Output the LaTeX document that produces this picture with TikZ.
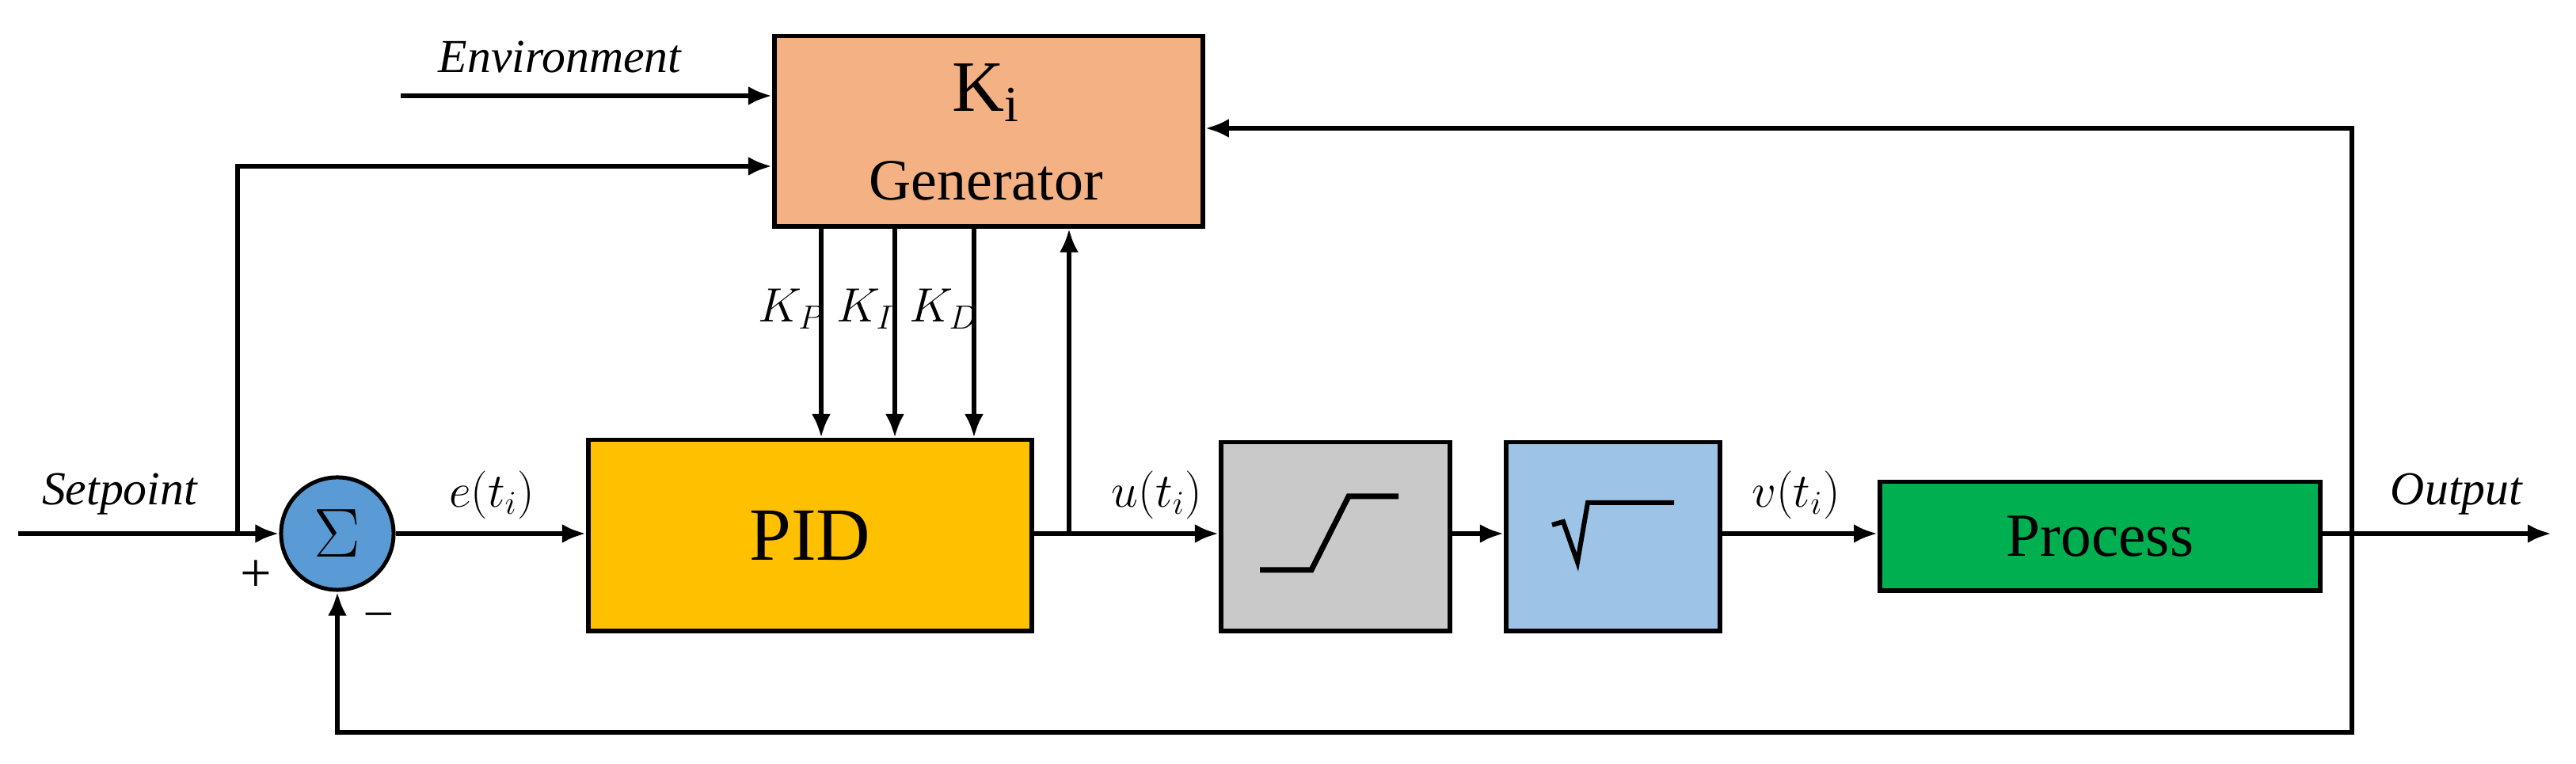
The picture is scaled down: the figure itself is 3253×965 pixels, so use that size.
\documentclass[tikz,border=0pt]{standalone}
\usepackage{fontspec}
\setmainfont{Liberation Serif}
\usetikzlibrary{arrows.meta,shapes.geometric}
\definecolor{gen}{HTML}{F4B183}
\definecolor{pid}{HTML}{FFC000}
\definecolor{sat}{HTML}{C9C9C9}
\definecolor{sq}{HTML}{9DC3E6}
\definecolor{proc}{HTML}{00B050}
\definecolor{sumc}{HTML}{5B9BD5}
\begin{document}
\begin{tikzpicture}[x=0.01cm,y=-0.01cm,line width=0.6mm,
  blk/.style={draw,line width=0.55mm,minimum width=#1,inner sep=0pt},
  arr/.style={-{Latex[length=3mm,width=2.4mm]}},
  lab/.style={font=\fontsize{17}{20}\selectfont\itshape}]
\useasboundingbox (0,0) rectangle (3253,965);
% blocks
\node[draw,line width=0.55mm,fill=gen,minimum width=5.41cm,minimum height=2.40cm,anchor=north west] (gen) at (975,43) {};
\node[font=\fontsize{26}{30}\selectfont] (ki) at (1245,117) {K\textsubscript{i}};
\node[font=\fontsize{21}{25}\selectfont] (gt) at (1245,228) {Generator};
\node[draw,line width=0.55mm,fill=pid,minimum width=5.60cm,minimum height=2.41cm,anchor=north west,font=\fontsize{27}{30}\selectfont] (pid) at (740,553) {PID};
\node[draw,line width=0.55mm,fill=sat,minimum width=2.89cm,minimum height=2.38cm,anchor=north west] (sat) at (1539,556) {};
\node[draw,line width=0.55mm,fill=sq,minimum width=2.70cm,minimum height=2.38cm,anchor=north west] (sq) at (1899,556) {};
\node[draw,line width=0.55mm,fill=proc,minimum width=5.56cm,minimum height=1.37cm,anchor=north west,font=\fontsize{22}{26}\selectfont] (proc) at (2371,606) {Process};
\node[ellipse,draw,line width=0.5mm,fill=sumc,minimum width=1.42cm,minimum height=1.42cm,inner sep=0pt,font=\fontsize{24}{28}\selectfont] (sum) at (426,674) {$\Sigma$};
% symbols
\draw[line width=0.7mm] (1591,720) -- (1656,720) -- (1703,627) -- (1766,627);
\draw[line width=0.6mm] (1960,663) -- (1974,659) -- (1992,710) -- (2005,635) -- (2114,635);
% coordinates
\coordinate (in) at (23,674);
\coordinate (br) at (300,674);
\coordinate (env) at (506,121);
\coordinate (pb) at (1350,674);
\coordinate (ob) at (2970,674);
\coordinate (out) at (3222,674);
% connectors
\draw[arr] (in) -- (sum.west);
\draw[arr] (br) |- (gen.west |- 0,210);
\draw[arr] (env) -- (gen.west |- env);
\draw[arr] (sum.east) -- (pid.west |- sum.east);
\draw[arr] (pid.east |- pb) -- (sat.west |- pb);
\draw[arr] (pb) -- (pb |- gen.south);
\draw[arr] (sat.east |- pb) -- (sq.west |- pb);
\draw[arr] (sq.east |- pb) -- (proc.west |- pb);
\draw[arr] (proc.east |- pb) -- (out);
\draw[arr] (ob) |- (gen.east |- 0,162);
\draw[arr] (ob) |- (426,925) -- (sum.south);
\foreach \x in {1037,1130,1230} \draw[arr] (\x,283) -- (\x,553);
% labels
\node[lab] at (707,72) {Environment};
\node[lab] at (151,624) {Setpoint};
\node[lab] at (3102,624) {Output};
\node[lab] at (621,625) {$e(t_i)$};
\node[lab] at (1461,625) {$u(t_i)$};
\node[lab] at (2268,625) {$v(t_i)$};
\node[lab] at (1000,390) {$K_P$};
\node[lab] at (1093,390) {$K_I$};
\node[lab] at (1192,390) {$K_D$};
\node[font=\fontsize{20}{24}\selectfont] at (323,728) {+};
\node[font=\fontsize{18}{22}\selectfont] at (478,782) {--};
\end{tikzpicture}
\end{document}
